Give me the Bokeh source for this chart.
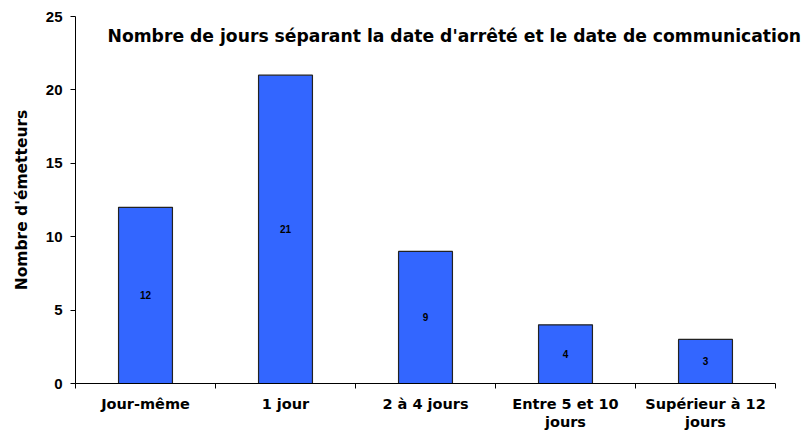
from bokeh.plotting import figure
from bokeh.models import FixedTicker, Range1d, Label, ColumnDataSource, LabelSet
from bokeh.embed import file_html
from bokeh.resources import INLINE
from bokeh.core.properties import value

categories = ["Jour-même", "1 jour", "2 à 4 jours", "Entre 5 et 10\njours", "Supérieur à 12\njours"]
counts = [12, 21, 9, 4, 3]
y_ticks = [0, 5, 10, 15, 20, 25]
title_text = "Nombre de jours séparant la date d'arrêté et le date de communication"
y_label = "Nombre d'émetteurs"

FONT = "Liberation Sans"
WIDE = "DejaVu Sans"

n = len(categories)
xs = [i + 0.5 for i in range(n)]
mids = [c / 2 for c in counts]
src = ColumnDataSource(dict(x=xs, top=counts, mid=mids, lab=[str(c) for c in counts]))

# frame runs to the right edge so the title is not clipped; axis is bounded to the categories
p = figure(width=808, height=432, output_backend="svg", toolbar_location=None,
           x_range=Range1d(0, n + 33 / 140), y_range=Range1d(0, 25),
           min_border_left=75, min_border_right=0, min_border_top=16, min_border_bottom=44)
p.outline_line_color = None
p.xgrid.visible = False
p.ygrid.visible = False

p.vbar(x="x", top="top", width=0.385, bottom=0, source=src,
       fill_color="#3366FF", line_color="#222222", line_width=1.2)

p.add_layout(LabelSet(x="x", y="mid", text="lab", source=src, text_align="center",
                      text_baseline="middle", text_font=value(FONT), text_font_size="10px",
                      text_font_style="bold", text_color="black"))

# x axis
xa = p.xaxis[0]
xa.bounds = (0, n)
xa.ticker = FixedTicker(ticks=xs, minor_ticks=list(range(n + 1)))
xa.major_label_overrides = {x: c for x, c in zip(xs, categories)}
xa.major_tick_out = 0
xa.major_tick_in = 0
xa.minor_tick_out = 5
xa.minor_tick_in = 0
xa.minor_tick_line_color = "black"
xa.axis_line_color = "black"
xa.major_label_text_font = WIDE
xa.major_label_text_font_style = "bold"
xa.major_label_text_font_size = "14.5px"
xa.major_label_text_color = "black"
xa.major_label_standoff = 7
xa.major_label_text_line_height = 1.15

# y axis
ya = p.yaxis[0]
ya.ticker = FixedTicker(ticks=y_ticks, minor_ticks=[])
ya.major_tick_out = 5
ya.major_tick_in = 0
ya.axis_line_color = "black"
ya.major_tick_line_color = "black"
ya.major_label_text_font = FONT
ya.major_label_text_font_style = "bold"
ya.major_label_text_font_size = "15px"
ya.major_label_text_color = "black"
ya.major_label_standoff = 8
ya.axis_label = y_label
ya.axis_label_text_font = WIDE
ya.axis_label_text_font_style = "bold"
ya.axis_label_text_font_size = "15.5px"
ya.axis_label_text_color = "black"
ya.axis_label_standoff = 12

p.add_layout(Label(x=32, y=23.7, x_units="screen", y_units="data", text=title_text,
                   text_font=WIDE, text_font_style="bold", text_font_size="17.2px",
                   text_color="black", text_baseline="middle"))

open("out.html", "w").write(file_html(p, INLINE))
